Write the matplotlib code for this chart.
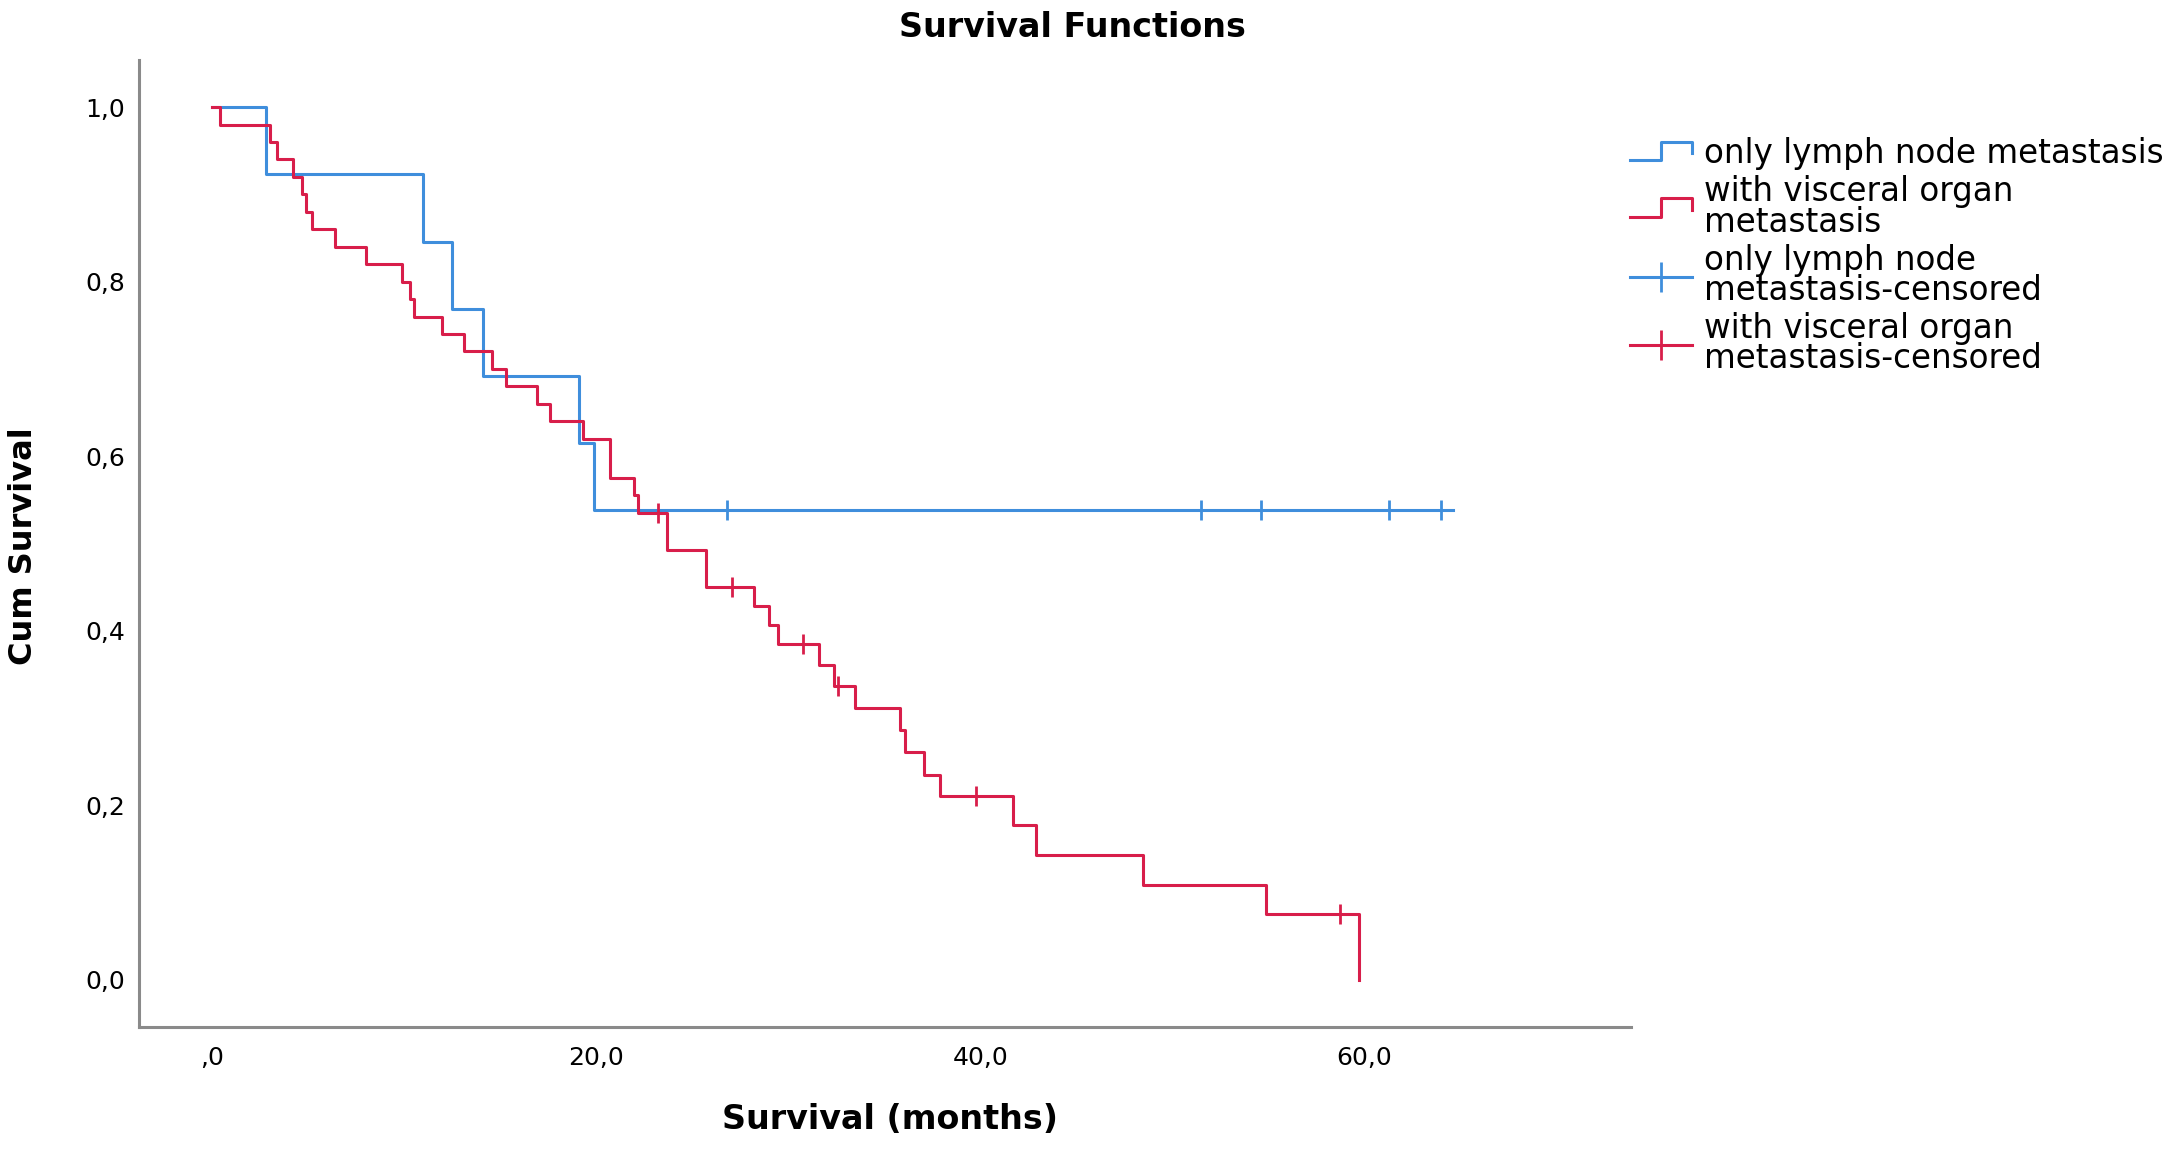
import matplotlib
matplotlib.use("Agg")
import matplotlib.pyplot as plt
from matplotlib.lines import Line2D
from matplotlib.legend_handler import HandlerBase

# Kaplan-Meier curves (months, cum survival)
lymph_t = [0, 2.8, 11.0, 12.5, 14.1, 19.1, 19.9, 64.6]
lymph_s = [1.0, 0.923, 0.846, 0.769, 0.692, 0.615, 0.538, 0.538]
lymph_cens_t = [26.8, 51.5, 54.6, 61.3, 64.0]
lymph_cens_s = [0.538, 0.538, 0.538, 0.538, 0.538]

visc_t = [0, 0.4, 3.0, 3.4, 4.2, 4.7, 4.9, 5.2, 6.4, 8.0, 9.9, 10.3, 10.5,
          12.0, 13.1, 14.6, 15.3, 16.9, 17.6, 19.3, 20.7, 22.0, 22.2, 23.7,
          25.7, 28.2, 29.0, 29.45, 31.6, 32.4, 33.5, 35.8, 36.1, 37.1, 37.9,
          41.7, 42.9, 48.5, 54.9, 59.7]
visc_s = [1.0, 0.980, 0.960, 0.940, 0.920, 0.900, 0.880, 0.860, 0.840, 0.820,
          0.800, 0.780, 0.760, 0.740, 0.720, 0.700, 0.680, 0.660, 0.640, 0.620,
          0.575, 0.555, 0.535, 0.493, 0.450, 0.428, 0.407, 0.385, 0.361, 0.337,
          0.311, 0.286, 0.261, 0.235, 0.211, 0.177, 0.143, 0.109, 0.075, 0.0]
visc_cens_t = [23.2, 27.1, 30.8, 32.6, 39.8, 58.75]
visc_cens_s = [0.535, 0.450, 0.385, 0.337, 0.211, 0.075]

xticks = [0, 20, 40, 60]
xtick_labels = [",0", "20,0", "40,0", "60,0"]
yticks = [0.0, 0.2, 0.4, 0.6, 0.8, 1.0]
ytick_labels = ["0,0", "0,2", "0,4", "0,6", "0,8", "1,0"]

labels = ["only lymph node metastasis",
          "with visceral organ\nmetastasis",
          "only lymph node\nmetastasis-censored",
          "with visceral organ\nmetastasis-censored"]

blue = "#3F8EDC"
red = "#D81E4A"


class StepHandler(HandlerBase):
    # legend handle drawn as a little survival step
    def create_artists(self, legend, orig_handle, xdescent, ydescent,
                       width, height, fontsize, trans):
        xs = [-xdescent + width * f for f in (0, 0.5, 0.5, 1, 1)]
        ys = [-ydescent + height * f for f in (0.15, 0.15, 0.95, 0.95, 0.45)]
        ln = Line2D(xs, ys, color=orig_handle.get_color(),
                    lw=orig_handle.get_linewidth())
        ln.set_transform(trans)
        return [ln]


fig = plt.figure(figsize=(21.75, 11.49), dpi=100)
ax = fig.add_axes([0.0639, 0.1062, 0.6861, 0.8416])

l1, = ax.step(lymph_t, lymph_s, where="post", color=blue, lw=2.2)
l2, = ax.step(visc_t, visc_s, where="post", color=red, lw=2.2)
ax.plot(lymph_cens_t, lymph_cens_s, ls="none", marker="|", ms=14, mew=2,
        color=blue)
ax.plot(visc_cens_t, visc_cens_s, ls="none", marker="|", ms=14, mew=2,
        color=red)

ax.set_xlim(-3.8, 73.9)
ax.set_ylim(-0.054, 1.054)
ax.set_xticks(xticks)
ax.set_xticklabels(xtick_labels)
ax.set_yticks(yticks)
ax.set_yticklabels(ytick_labels)
ax.tick_params(length=0, labelsize=18)
ax.tick_params(axis="x", pad=14)
ax.tick_params(axis="y", pad=10)

for side in ["top", "right"]:
    ax.spines[side].set_visible(False)
for side in ["left", "bottom"]:
    ax.spines[side].set_color("#8a8a8a")
    ax.spines[side].set_linewidth(2.2)

handles = [l1, l2,
           Line2D([], [], color=blue, lw=2.2, marker="|", ms=22, mew=2),
           Line2D([], [], color=red, lw=2.2, marker="|", ms=22, mew=2)]
leg = fig.legend(handles, labels, loc="upper left",
                 bbox_to_anchor=(0.736, 0.906), frameon=False, fontsize=23.5,
                 handlelength=1.9, handletextpad=0.35, labelspacing=0.15,
                 numpoints=1,
                 handler_map={l1: StepHandler(), l2: StepHandler()})
for t in leg.get_texts():
    t.set_linespacing(0.9)

fig.text(0.493, 0.976, "Survival Functions", ha="center", va="center",
         fontsize=24, fontweight="bold")
fig.text(0.0106, 0.525, "Cum Survival", ha="center", va="center",
         rotation=90, fontsize=23, fontweight="bold")
fig.text(0.409, 0.026, "Survival (months)", ha="center", va="center",
         fontsize=24, fontweight="bold")

fig.savefig("out.png", dpi=100)
